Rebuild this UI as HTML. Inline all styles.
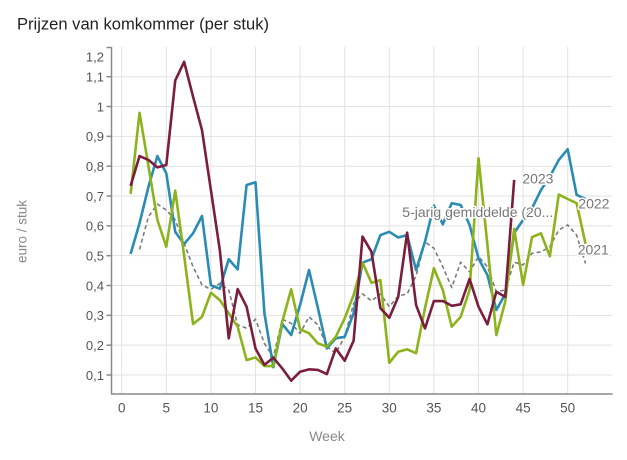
<!DOCTYPE html>
<html>
<head>
<meta charset="utf-8">
<style>
html,body{margin:0;padding:0;background:#fff;}
svg{display:block;}
text{font-family:"Liberation Sans",Arial,sans-serif;}
</style>
</head>
<body>
<svg width="627" height="460" viewBox="0 0 627 460" xmlns="http://www.w3.org/2000/svg">
<rect width="627" height="460" fill="#fff"/>
<text x="17" y="29.5" font-size="17" fill="#222" textLength="252" lengthAdjust="spacingAndGlyphs">Prijzen van komkommer (per stuk)</text>

<!-- grid -->
<g stroke="#e2e2e2" stroke-width="1" fill="none">
<line x1="112" y1="375" x2="612" y2="375"/>
<line x1="112" y1="345.17" x2="612" y2="345.17"/>
<line x1="112" y1="315.34" x2="612" y2="315.34"/>
<line x1="112" y1="285.51" x2="612" y2="285.51"/>
<line x1="112" y1="255.68" x2="612" y2="255.68"/>
<line x1="112" y1="225.85" x2="612" y2="225.85"/>
<line x1="112" y1="196.02" x2="612" y2="196.02"/>
<line x1="112" y1="166.19" x2="612" y2="166.19"/>
<line x1="112" y1="136.36" x2="612" y2="136.36"/>
<line x1="112" y1="106.53" x2="612" y2="106.53"/>
<line x1="112" y1="76.7" x2="612" y2="76.7"/>
<line x1="121.7" y1="47" x2="121.7" y2="394"/>
<line x1="166.3" y1="47" x2="166.3" y2="394"/>
<line x1="210.9" y1="47" x2="210.9" y2="394"/>
<line x1="255.5" y1="47" x2="255.5" y2="394"/>
<line x1="300.1" y1="47" x2="300.1" y2="394"/>
<line x1="344.7" y1="47" x2="344.7" y2="394"/>
<line x1="389.3" y1="47" x2="389.3" y2="394"/>
<line x1="433.9" y1="47" x2="433.9" y2="394"/>
<line x1="478.5" y1="47" x2="478.5" y2="394"/>
<line x1="523.1" y1="47" x2="523.1" y2="394"/>
<line x1="567.7" y1="47" x2="567.7" y2="394"/>
</g>

<!-- axes -->
<g stroke="#8a8a8a" stroke-width="1.5" fill="none">
<line x1="111.5" y1="47" x2="111.5" y2="394.5"/>
<line x1="111" y1="394" x2="612.5" y2="394"/>
<line x1="106.5" y1="47.5" x2="111.5" y2="47.5"/>
<line x1="106.5" y1="375" x2="111.5" y2="375"/>
<line x1="106.5" y1="345.17" x2="111.5" y2="345.17"/>
<line x1="106.5" y1="315.34" x2="111.5" y2="315.34"/>
<line x1="106.5" y1="285.51" x2="111.5" y2="285.51"/>
<line x1="106.5" y1="255.68" x2="111.5" y2="255.68"/>
<line x1="106.5" y1="225.85" x2="111.5" y2="225.85"/>
<line x1="106.5" y1="196.02" x2="111.5" y2="196.02"/>
<line x1="106.5" y1="166.19" x2="111.5" y2="166.19"/>
<line x1="106.5" y1="136.36" x2="111.5" y2="136.36"/>
<line x1="106.5" y1="106.53" x2="111.5" y2="106.53"/>
<line x1="106.5" y1="76.7" x2="111.5" y2="76.7"/>
</g>

<!-- y labels -->
<g font-size="13" fill="#555" text-anchor="end">
<text x="104" y="61.5">1,2</text>
<text x="104" y="81.5">1,1</text>
<text x="104" y="111.3">1</text>
<text x="104" y="141.1">0,9</text>
<text x="104" y="171">0,8</text>
<text x="104" y="200.8">0,7</text>
<text x="104" y="230.6">0,6</text>
<text x="104" y="260.5">0,5</text>
<text x="104" y="290.3">0,4</text>
<text x="104" y="320.1">0,3</text>
<text x="104" y="350">0,2</text>
<text x="104" y="379.8">0,1</text>
</g>

<!-- x labels -->
<g font-size="13.5" fill="#555" text-anchor="middle">
<text x="121.7" y="412.5">0</text>
<text x="166.3" y="412.5">5</text>
<text x="210.9" y="412.5">10</text>
<text x="255.5" y="412.5">15</text>
<text x="300.1" y="412.5">20</text>
<text x="344.7" y="412.5">25</text>
<text x="389.3" y="412.5">30</text>
<text x="433.9" y="412.5">35</text>
<text x="478.5" y="412.5">40</text>
<text x="523.1" y="412.5">45</text>
<text x="567.7" y="412.5">50</text>
</g>

<text x="327" y="441" font-size="14" fill="#888" text-anchor="middle">Week</text>
<text transform="translate(26.5,231.5) rotate(-90)" font-size="13.5" fill="#888" text-anchor="middle">euro / stuk</text>

<!-- 5-year average dashed -->
<polyline fill="none" stroke="#7a7a7a" stroke-width="1.6" stroke-dasharray="4,3" stroke-linejoin="round"
points="139.54,249.42 148.46,216.60 157.38,204.07 166.3,210.04 175.22,219.88 184.14,243.45 193.06,266.72 201.98,284.91 210.9,289.39 219.82,283.42 228.74,289.98 237.66,324.89 246.58,328.17 255.5,319.22 264.42,343.38 273.34,357.10 282.26,319.22 291.18,323.39 300.1,333.24 309.02,316.83 317.94,324.89 326.86,346.66 335.78,353.22 344.7,336.82 353.62,303.41 362.54,293.86 371.46,301.02 380.38,293.86 389.3,306.69 398.22,295.95 407.14,293.86 416.06,275.96 424.98,241.96 433.9,248.22 442.82,266.72 451.74,287.60 460.66,262.24 469.58,271.79 478.5,256.57 487.42,266.72 496.34,291.77 505.26,289.98 514.18,262.24 523.1,264.93 532.02,253.29 540.94,251.80 549.86,246.73 558.78,230.03 567.7,224.96 576.62,235.10 585.54,263.44"/>

<!-- blue -->
<polyline fill="none" stroke="#2b8cb3" stroke-width="2.6" stroke-linejoin="round"
points="130.62,253.89 139.54,223.17 148.46,186.77 157.38,156.05 166.3,173.35 175.22,231.82 184.14,244.05 193.06,233.31 201.98,216.01 210.9,285.21 219.82,288.79 228.74,259.26 237.66,269.40 246.58,184.98 255.5,182.30 264.42,313.25 273.34,367.24 282.26,323.99 291.18,335.03 300.1,304.90 309.02,270.00 317.94,308.18 326.86,348.45 335.78,338.31 344.7,336.82 353.62,313.25 362.54,262.54 371.46,259.26 380.38,235.10 389.3,231.82 398.22,237.48 407.14,235.10 416.06,270.00 424.98,241.66 433.9,205.57 442.82,224.36 451.74,203.18 460.66,204.97 469.58,224.96 478.5,258.36 487.42,275.07 496.34,309.97 505.26,294.16 514.18,233.01 523.1,219.88 532.02,208.25 540.94,190.05 549.86,176.63 558.78,159.93 567.7,149.19 576.62,194.83 585.54,199.00"/>

<!-- green -->
<polyline fill="none" stroke="#8db31c" stroke-width="2.6" stroke-linejoin="round"
points="130.62,193.93 139.54,112.79 148.46,166.19 157.38,219.88 166.3,246.73 175.22,190.65 184.14,255.68 193.06,323.99 201.98,316.83 210.9,292.67 219.82,300.13 228.74,313.25 237.66,326.68 246.58,360.08 255.5,357.40 264.42,366.05 273.34,366.05 282.26,321.60 291.18,289.39 300.1,329.36 309.02,333.24 317.94,343.38 326.86,346.66 335.78,336.82 344.7,318.32 353.62,295.06 362.54,262.54 371.46,282.83 380.38,280.14 389.3,362.77 398.22,351.73 407.14,349.35 416.06,353.22 424.98,308.18 433.9,268.21 442.82,289.98 451.74,326.68 460.66,316.83 469.58,289.98 478.5,158.14 487.42,244.94 496.34,335.03 505.26,301.62 514.18,228.83 523.1,284.91 532.02,237.19 540.94,233.31 549.86,256.28 558.78,194.53 567.7,199.00 576.62,203.18 585.54,243.75"/>

<!-- maroon -->
<polyline fill="none" stroke="#7b1e3e" stroke-width="2.6" stroke-linejoin="round"
points="130.62,185.88 139.54,156.05 148.46,159.93 157.38,167.38 166.3,165.00 175.22,80.58 184.14,61.78 193.06,96.69 201.98,130.10 210.9,190.05 219.82,250.01 228.74,338.31 237.66,289.09 246.58,306.69 255.5,348.45 264.42,364.86 273.34,357.70 282.26,368.44 291.18,380.67 300.1,371.72 309.02,369.33 317.94,369.93 326.86,374.11 335.78,348.45 344.7,360.68 353.62,340.70 362.54,236.59 371.46,251.80 380.38,308.18 389.3,317.73 398.22,296.85 407.14,232.71 416.06,304.90 424.98,328.47 433.9,301.02 442.82,301.02 451.74,305.79 460.66,304.30 469.58,278.95 478.5,306.69 487.42,324.29 496.34,291.77 505.26,296.85 514.18,179.91"/>

<!-- line labels -->
<g font-size="14" fill="#777" stroke="#fff" stroke-width="3" paint-order="stroke" stroke-linejoin="round">
<text x="402.3" y="216.8" textLength="151" lengthAdjust="spacingAndGlyphs">5-jarig gemiddelde (20...</text>
<text x="522.3" y="183.5">2023</text>
<text x="578.3" y="208.5">2022</text>
<text x="577.7" y="254.5">2021</text>
</g>
</svg>
</body>
</html>
